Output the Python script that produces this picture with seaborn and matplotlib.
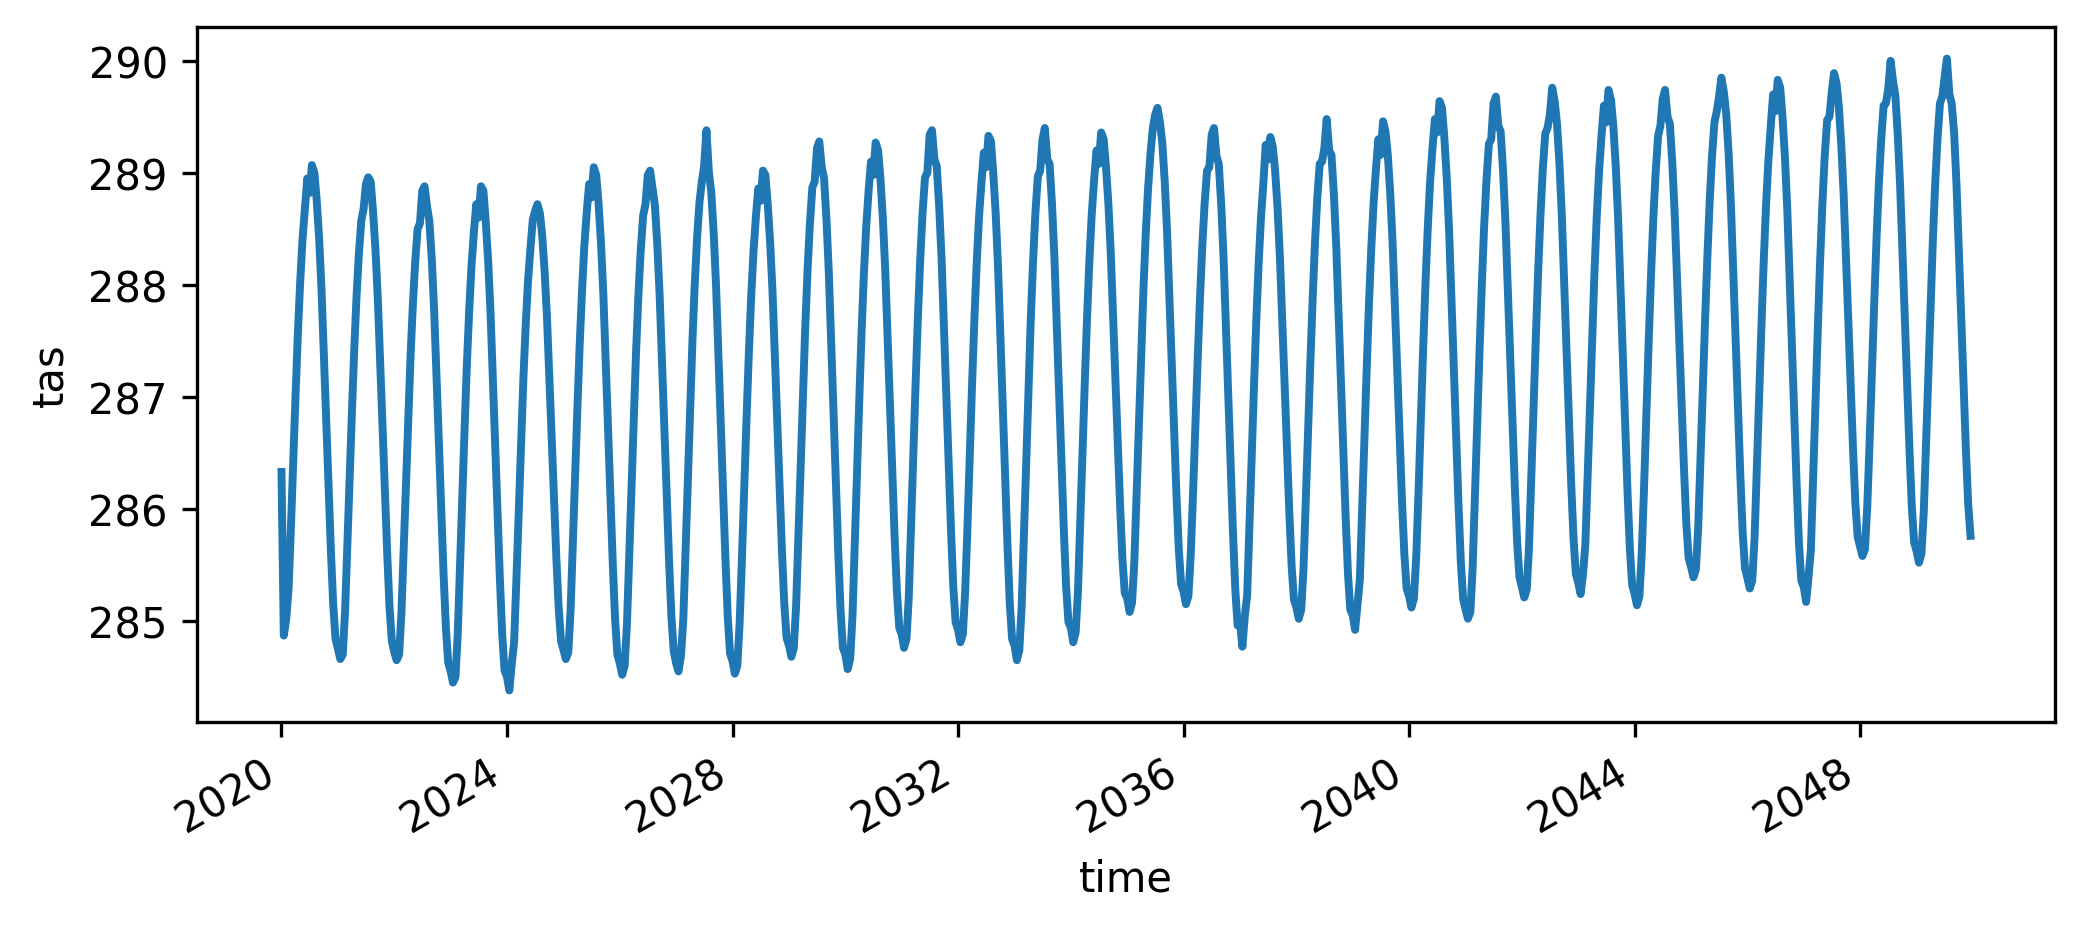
import numpy as np
import pandas as pd
import matplotlib
matplotlib.use("Agg")
import matplotlib.pyplot as plt
import matplotlib.dates as mdates
import seaborn as sns

# Semi-monthly values (1st and 16th of each month)
tas_2020 = [286.33, 284.87, 285.02, 285.29, 285.79, 286.38, 287.01, 287.56, 288.02, 288.40, 288.69, 288.95, 288.82, 289.07, 289.00, 288.76, 288.41, 287.97, 287.39, 286.82, 286.20, 285.63, 285.15, 284.84]
tas_2021 = [284.75, 284.66, 284.70, 285.09, 285.61, 286.21, 286.85, 287.41, 287.89, 288.27, 288.57, 288.68, 288.90, 288.96, 288.92, 288.66, 288.31, 287.88, 287.32, 286.76, 286.16, 285.60, 285.12, 284.82]
tas_2022 = [284.72, 284.65, 284.70, 285.07, 285.58, 286.17, 286.81, 287.36, 287.82, 288.20, 288.50, 288.55, 288.84, 288.88, 288.70, 288.57, 288.22, 287.77, 287.20, 286.62, 286.00, 285.42, 284.94, 284.63]
tas_2023 = [284.55, 284.45, 284.50, 284.89, 285.43, 286.05, 286.71, 287.29, 287.77, 288.17, 288.48, 288.72, 288.60, 288.88, 288.84, 288.57, 288.21, 287.76, 287.17, 286.59, 285.96, 285.37, 284.88, 284.56]
tas_2024 = [284.50, 284.38, 284.62, 284.81, 285.34, 285.94, 286.59, 287.16, 287.64, 288.03, 288.33, 288.58, 288.66, 288.72, 288.64, 288.44, 288.11, 287.71, 287.18, 286.65, 286.08, 285.55, 285.11, 284.82]
tas_2025 = [284.74, 284.66, 284.72, 285.10, 285.63, 286.24, 286.90, 287.47, 287.95, 288.35, 288.66, 288.90, 288.78, 289.05, 288.98, 288.73, 288.37, 287.92, 287.33, 286.74, 286.11, 285.52, 285.02, 284.70]
tas_2026 = [284.62, 284.52, 284.60, 284.97, 285.51, 286.14, 286.82, 287.40, 287.90, 288.30, 288.62, 288.72, 288.98, 289.02, 288.86, 288.71, 288.35, 287.90, 287.32, 286.74, 286.11, 285.53, 285.04, 284.73]
tas_2027 = [284.62, 284.55, 284.69, 285.01, 285.56, 286.21, 286.90, 287.49, 288.00, 288.41, 288.74, 288.92, 289.06, 289.38, 289.00, 288.83, 288.46, 288.00, 287.39, 286.79, 286.15, 285.55, 285.04, 284.71]
tas_2028 = [284.64, 284.53, 284.60, 284.98, 285.52, 286.15, 286.82, 287.40, 287.90, 288.30, 288.62, 288.86, 288.75, 289.02, 288.98, 288.72, 288.37, 287.94, 287.37, 286.81, 286.20, 285.63, 285.16, 284.85]
tas_2029 = [284.78, 284.68, 284.76, 285.14, 285.69, 286.34, 287.03, 287.62, 288.13, 288.54, 288.87, 288.92, 289.22, 289.28, 289.05, 288.95, 288.57, 288.10, 287.49, 286.88, 286.22, 285.61, 285.09, 284.76]
tas_2030 = [284.70, 284.57, 284.66, 285.04, 285.60, 286.26, 286.97, 287.58, 288.10, 288.52, 288.85, 289.10, 288.98, 289.27, 289.20, 288.95, 288.59, 288.14, 287.56, 286.97, 286.34, 285.75, 285.26, 284.94]
tas_2031 = [284.88, 284.76, 284.84, 285.22, 285.78, 286.42, 287.12, 287.72, 288.23, 288.64, 288.96, 289.00, 289.34, 289.38, 289.12, 289.06, 288.69, 288.24, 287.64, 287.05, 286.41, 285.82, 285.31, 284.99]
tas_2032 = [284.92, 284.81, 284.88, 285.26, 285.80, 286.44, 287.12, 287.70, 288.20, 288.61, 288.92, 289.18, 289.05, 289.33, 289.28, 289.00, 288.63, 288.16, 287.55, 286.94, 286.29, 285.68, 285.16, 284.84]
tas_2033 = [284.78, 284.65, 284.74, 285.13, 285.70, 286.36, 287.07, 287.69, 288.21, 288.64, 288.97, 289.02, 289.30, 289.40, 289.12, 289.08, 288.71, 288.25, 287.66, 287.06, 286.42, 285.82, 285.31, 284.99]
tas_2034 = [284.94, 284.81, 284.90, 285.27, 285.81, 286.45, 287.13, 287.72, 288.22, 288.63, 288.95, 289.20, 289.08, 289.36, 289.30, 289.06, 288.72, 288.29, 287.73, 287.18, 286.58, 286.02, 285.55, 285.25]
tas_2035 = [285.20, 285.08, 285.16, 285.53, 286.07, 286.70, 287.38, 287.96, 288.46, 288.86, 289.18, 289.40, 289.52, 289.58, 289.45, 289.27, 288.92, 288.47, 287.90, 287.32, 286.70, 286.12, 285.64, 285.33]
tas_2036 = [285.26, 285.15, 285.22, 285.58, 286.09, 286.68, 287.32, 287.87, 288.34, 288.72, 289.02, 289.05, 289.34, 289.40, 289.15, 289.08, 288.71, 288.24, 287.64, 287.04, 286.39, 285.79, 285.28, 284.96]
tas_2037 = [284.98, 284.77, 285.05, 285.23, 285.77, 286.41, 287.09, 287.68, 288.18, 288.59, 288.91, 289.25, 289.12, 289.32, 289.23, 289.02, 288.68, 288.25, 287.69, 287.13, 286.53, 285.97, 285.49, 285.19]
tas_2038 = [285.12, 285.02, 285.10, 285.47, 286.00, 286.63, 287.30, 287.87, 288.37, 288.77, 289.08, 289.10, 289.22, 289.48, 289.20, 289.16, 288.80, 288.34, 287.75, 287.15, 286.52, 285.92, 285.42, 285.10]
tas_2039 = [285.05, 284.92, 285.15, 285.37, 285.92, 286.55, 287.24, 287.83, 288.33, 288.73, 289.05, 289.30, 289.16, 289.46, 289.37, 289.16, 288.81, 288.38, 287.81, 287.25, 286.64, 286.07, 285.60, 285.29]
tas_2040 = [285.22, 285.12, 285.20, 285.57, 286.11, 286.75, 287.43, 288.01, 288.51, 288.92, 289.23, 289.48, 289.36, 289.64, 289.58, 289.32, 288.95, 288.49, 287.88, 287.28, 286.64, 286.04, 285.53, 285.20]
tas_2041 = [285.10, 285.02, 285.08, 285.49, 286.05, 286.70, 287.40, 288.00, 288.52, 288.93, 289.26, 289.30, 289.62, 289.68, 289.42, 289.37, 289.01, 288.56, 287.98, 287.40, 286.77, 286.19, 285.70, 285.39]
tas_2042 = [285.30, 285.21, 285.28, 285.67, 286.21, 286.85, 287.53, 288.12, 288.62, 289.03, 289.35, 289.40, 289.52, 289.76, 289.64, 289.44, 289.08, 288.63, 288.04, 287.45, 286.82, 286.23, 285.74, 285.42]
tas_2043 = [285.34, 285.24, 285.42, 285.69, 286.23, 286.86, 287.54, 288.12, 288.62, 289.02, 289.34, 289.60, 289.45, 289.74, 289.65, 289.42, 289.05, 288.59, 287.99, 287.39, 286.75, 286.15, 285.65, 285.32]
tas_2044 = [285.24, 285.14, 285.22, 285.60, 286.15, 286.80, 287.49, 288.08, 288.59, 289.00, 289.33, 289.42, 289.66, 289.74, 289.50, 289.44, 289.09, 288.65, 288.09, 287.52, 286.91, 286.35, 285.87, 285.56]
tas_2045 = [285.48, 285.39, 285.46, 285.84, 286.37, 287.00, 287.67, 288.24, 288.74, 289.14, 289.45, 289.55, 289.68, 289.85, 289.72, 289.53, 289.17, 288.71, 288.12, 287.52, 286.89, 286.29, 285.79, 285.47]
tas_2046 = [285.38, 285.29, 285.36, 285.74, 286.29, 286.92, 287.61, 288.20, 288.70, 289.10, 289.42, 289.70, 289.55, 289.83, 289.76, 289.50, 289.13, 288.67, 288.06, 287.45, 286.80, 286.20, 285.68, 285.36]
tas_2047 = [285.30, 285.17, 285.40, 285.64, 286.21, 286.87, 287.58, 288.19, 288.71, 289.14, 289.47, 289.50, 289.72, 289.89, 289.80, 289.59, 289.24, 288.81, 288.25, 287.69, 287.09, 286.53, 286.05, 285.75]
tas_2048 = [285.66, 285.58, 285.64, 286.02, 286.55, 287.17, 287.83, 288.41, 288.90, 289.29, 289.60, 289.62, 289.75, 290.00, 289.82, 289.69, 289.33, 288.88, 288.30, 287.72, 287.09, 286.51, 286.01, 285.70]
tas_2049 = [285.62, 285.52, 285.60, 285.97, 286.51, 287.14, 287.82, 288.40, 288.90, 289.30, 289.62, 289.68, 289.85, 290.02, 289.70, 289.62, 289.35, 288.90, 288.32, 287.74, 287.11, 286.53, 286.04, 285.76]

years = list(range(2020, 2050))
sample_days = [1, 16]
tas_by_year = [tas_2020, tas_2021, tas_2022, tas_2023, tas_2024, tas_2025,
               tas_2026, tas_2027, tas_2028, tas_2029, tas_2030, tas_2031,
               tas_2032, tas_2033, tas_2034, tas_2035, tas_2036, tas_2037,
               tas_2038, tas_2039, tas_2040, tas_2041, tas_2042, tas_2043,
               tas_2044, tas_2045, tas_2046, tas_2047, tas_2048, tas_2049]

times = [pd.Timestamp(year=y, month=m, day=d)
         for y in years for m in range(1, 13) for d in sample_days]
values = [v for row in tas_by_year for v in row]
df = pd.DataFrame({"time": times, "tas": values})

fig = plt.figure(figsize=(2085 / 300, 926 / 300), dpi=300)
ax = fig.add_axes([0.0945, 0.2192, 0.9856 - 0.0945, 0.9698 - 0.2192])
sns.lineplot(data=df, x="time", y="tas", ax=ax, color="#1f77b4",
             linewidth=1.9, estimator=None)

ax.xaxis.set_major_locator(mdates.YearLocator(4))
ax.xaxis.set_major_formatter(mdates.DateFormatter("%Y"))
for lbl in ax.get_xticklabels():
    lbl.set_rotation(30)
    lbl.set_ha("right")
ax.set_xlabel("time")
ax.set_ylabel("tas")

fig.savefig("out.png", dpi=300)
